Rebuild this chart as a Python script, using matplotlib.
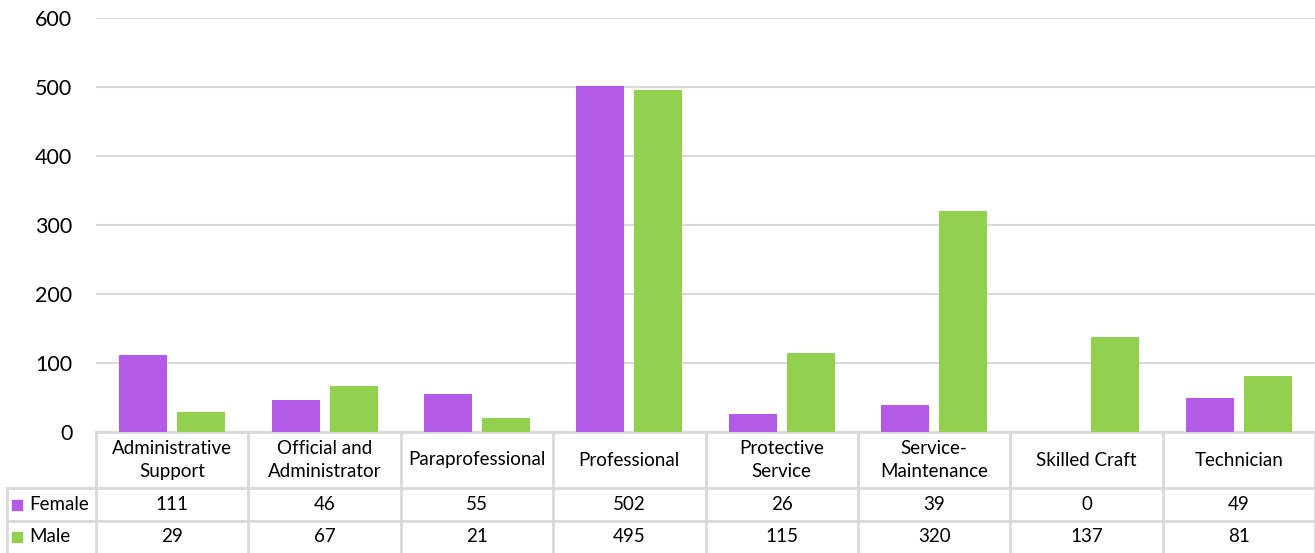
import numpy as np
import matplotlib.pyplot as plt

categories = ["Administrative\nSupport", "Official and\nAdministrator", "Paraprofessional",
              "Professional", "Protective\nService", "Service-\nMaintenance",
              "Skilled Craft", "Technician"]
female = [111, 46, 55, 502, 26, 39, 0, 49]
male = [29, 67, 21, 495, 115, 320, 137, 81]

purple = "#B35BE8"
green = "#92D050"
grid = "#D9D9D9"
plt.rcParams['font.family'] = ['Lato', 'DejaVu Sans']

fig = plt.figure(figsize=(13.15, 5.53), dpi=100)
ax = fig.add_axes([96 / 1315, 121 / 553, 1219 / 1315, 414 / 553])

x = np.arange(len(categories))
w = 0.315
ax.bar(x - 0.19, female, w, color=purple, zorder=3)
ax.bar(x + 0.19, male, w, color=green, zorder=3)

ax.set_xlim(-0.5, len(categories) - 0.5)
ax.set_ylim(0, 600)
ax.set_yticks(range(0, 601, 100))
ax.yaxis.grid(True, color=grid, lw=1.5, zorder=0)
ax.set_xticks([])
for s in ax.spines.values():
    s.set_visible(False)
ax.tick_params(axis='y', length=0, labelsize=15.5, pad=17)

# data table under the plot
tr = ax.get_xaxis_transform()
px = 1 / 414  # one pixel in axes fraction (vertical)
ux = 1 / 152.4  # one pixel in data units (horizontal)
y_head = -56 * px
y_fem = -89 * px
y_male = -121 * px
x_left = -0.5 - 89 * ux
lk = dict(color=grid, lw=2, transform=tr, clip_on=False)
fs = 13.5

ax.plot([-0.5, 7.5], [0, 0], **lk)
ax.plot([x_left, 7.5], [y_head, y_head], **lk)
ax.plot([x_left, 7.5], [y_fem, y_fem], **lk)
ax.plot([x_left, x_left], [y_head, y_male], **lk)
for b in np.arange(-0.5, 8.0, 1.0):
    ax.plot([b, b], [0, y_male], **lk)

for i, c in enumerate(categories):
    ax.text(i, y_head / 2, c, transform=tr, ha='center', va='center',
            fontsize=fs, linespacing=1.4)
    ax.text(i, (y_head + y_fem) / 2, str(female[i]), transform=tr,
            ha='center', va='center', fontsize=fs)
    ax.text(i, (y_fem + y_male) / 2, str(male[i]), transform=tr,
            ha='center', va='center', fontsize=fs)

for name, col, yc in [("Female", purple, (y_head + y_fem) / 2),
                      ("Male", green, (y_fem + y_male) / 2)]:
    ax.scatter([x_left + 10 * ux], [yc], marker='s', s=60, color=col,
               transform=tr, clip_on=False)
    ax.text(x_left + 22 * ux, yc, name, transform=tr, ha='left',
            va='center', fontsize=fs)

fig.savefig("out.png", dpi=100)
